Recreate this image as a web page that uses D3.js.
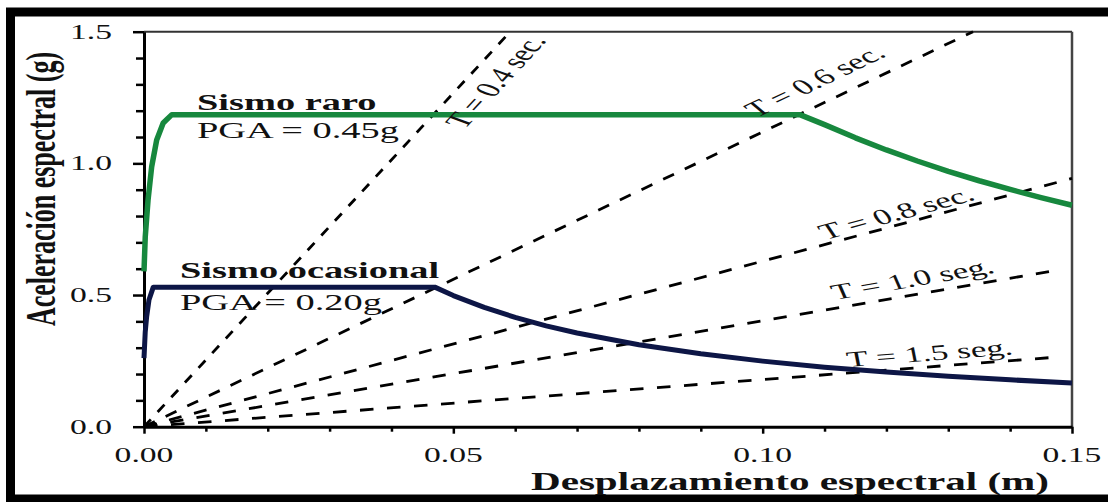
<!DOCTYPE html>
<html>
<head>
<meta charset="utf-8">
<script src="https://cdn.jsdelivr.net/npm/d3@7"></script>
<style>
  html, body { margin: 0; padding: 0; background: #fff; }
  svg { display: block; }
</style>
</head>
<body>
<svg id="chart" width="1108" height="502"></svg>
<script>
// Demand spectra in ADRS format: spectral displacement (m) vs spectral acceleration (g)

// "Sismo raro" spectrum
const rareSd = [0, 0.0002, 0.00065, 0.00124, 0.00205, 0.0031, 0.0045, 0.106, 0.11, 0.115, 0.12, 0.125, 0.13, 0.135, 0.14, 0.145, 0.15];
const rareSa = [0.59, 0.72, 0.86, 0.987, 1.089, 1.153, 1.185, 1.185, 1.147, 1.097, 1.051, 1.009, 0.970, 0.934, 0.901, 0.870, 0.841];

// "Sismo ocasional" spectrum
const occSd = [0, 0.0002, 0.00043, 0.0008, 0.0015, 0.047, 0.05, 0.055, 0.06, 0.065, 0.07, 0.08, 0.09, 0.10, 0.11, 0.12, 0.13, 0.14, 0.15];
const occSa = [0.26, 0.36, 0.418, 0.481, 0.53, 0.53, 0.498, 0.453, 0.415, 0.383, 0.356, 0.311, 0.277, 0.249, 0.226, 0.208, 0.192, 0.178, 0.166];

const spectraNames = ["Sismo raro", "Sismo ocasional"];
const spectraPGA = ["PGA = 0.45g", "PGA = 0.20g"];

// Constant-period radial lines, all starting at the origin
const periodLabels = ["T = 0.4 sec.", "T = 0.6 sec.", "T = 0.8 sec.", "T = 1.0 seg.", "T = 1.5 seg."];
const periodEndSd = [0.0592, 0.134, 0.15, 0.148, 0.148];
const periodEndSa = [1.5, 1.5, 0.943, 0.596, 0.265];
const periodLabelSd = [0.0518, 0.0990, 0.1101, 0.1117, 0.1138];
const periodLabelSa = [1.128, 1.172, 0.709, 0.481, 0.227];

// Axis ticks
const xMajorTicks = [0, 0.05, 0.10, 0.15];
const xMinorTicks = [0.01, 0.02, 0.03, 0.04, 0.06, 0.07, 0.08, 0.09, 0.11, 0.12, 0.13, 0.14];
const yMajorTicks = [0, 0.5, 1.0, 1.5];
const yMinorTicks = [0.1, 0.2, 0.3, 0.4, 0.6, 0.7, 0.8, 0.9, 1.1, 1.2, 1.3, 1.4];

const xTitle = "Desplazamiento espectral (m)";
const yTitle = "Aceleración espectral (g)";

// ---------------------------------------------------------------
const SX = 1.6;              // horizontal stretch of the whole figure
const FONT = "'Liberation Serif', 'Times New Roman', serif";
const svg = d3.select("#chart");

const x = d3.scaleLinear().domain([0, 0.15]).range([144, 1072]);
const y = d3.scaleLinear().domain([0, 1.5]).range([426.7, 31.7]);

// angle (radians) in unstretched space that appears as displayAngle after stretching
function baseAngle(displayAngle) {
  return Math.atan2(SX * Math.sin(displayAngle), Math.cos(displayAngle));
}
// length factor of a unit segment drawn at base angle phi after stretching
function stretchFactor(phi) {
  return Math.hypot(SX * Math.cos(phi), Math.sin(phi));
}

function stretchedText(parent, px, py, displayAngle, str, size, weight, anchor) {
  const phi = baseAngle(displayAngle) * 180 / Math.PI;
  return parent.append("text")
    .attr("transform", `translate(${px},${py}) scale(${SX},1) rotate(${phi})`)
    .attr("font-family", FONT)
    .attr("font-size", size)
    .attr("font-weight", weight || "normal")
    .attr("text-anchor", anchor || "start")
    .attr("fill", "#111")
    .text(str);
}

// Outer frame
svg.append("rect")
  .attr("x", 10.5).attr("y", 12).attr("width", 1200).attr("height", 487)
  .attr("fill", "none").attr("stroke", "#000").attr("stroke-width", 9);

// Plot box (top and right edges)
svg.append("line")
  .attr("x1", x(0)).attr("x2", x(0.15)).attr("y1", y(1.5)).attr("y2", y(1.5))
  .attr("stroke", "#333").attr("stroke-width", 2);
svg.append("line")
  .attr("x1", x(0.15)).attr("x2", x(0.15)).attr("y1", y(1.5)).attr("y2", y(0))
  .attr("stroke", "#444").attr("stroke-width", 2.5);

// Axes
const gx = svg.append("g").attr("transform", `translate(0,${y(0)})`);
gx.call(d3.axisBottom(x).tickValues(xMajorTicks).tickSize(7).tickSizeOuter(0).tickFormat(""));
const gxm = svg.append("g").attr("transform", `translate(0,${y(0)})`);
gxm.call(d3.axisBottom(x).tickValues(xMinorTicks).tickSize(5).tickSizeOuter(0).tickFormat(""));
gxm.select(".domain").remove();

const gy = svg.append("g").attr("transform", `translate(${x(0)},0)`);
gy.call(d3.axisLeft(y).tickValues(yMajorTicks).tickSize(11).tickSizeOuter(0).tickFormat(""));
const gym = svg.append("g").attr("transform", `translate(${x(0)},0)`);
gym.call(d3.axisLeft(y).tickValues(yMinorTicks).tickSize(8).tickSizeOuter(0).tickFormat(""));
gym.select(".domain").remove();

svg.selectAll(".domain").attr("stroke", "#000").attr("stroke-width", 3);
svg.selectAll(".tick line").attr("stroke", "#000").attr("stroke-width", 2.5);

// Tick labels
const fx = d3.format(".2f"), fy = d3.format(".1f");
xMajorTicks.forEach(v => stretchedText(svg, x(v), y(0) + 35, 0, fx(v), 21, "normal", "middle"));
yMajorTicks.forEach(v => stretchedText(svg, 112, y(v) + 7, 0, fy(v), 21, "normal", "end"));

// Axis titles
stretchedText(svg, 790, 490, 0, xTitle, 25.7, "bold", "middle");
stretchedText(svg, 55, 189, -Math.PI / 2, yTitle, 26, "bold", "middle");

// Constant-period lines
const BASE_DASH = 8.5, BASE_GAP = 8.5;
const periodLayer = svg.append("g");
periodLabels.forEach((lab, i) => {
  const x0 = x(0), y0 = y(0), x1 = x(periodEndSd[i]), y1 = y(periodEndSa[i]);
  const ang = Math.atan2(y1 - y0, x1 - x0);
  const k = stretchFactor(baseAngle(ang));
  periodLayer.append("line")
    .attr("x1", x0).attr("y1", y0).attr("x2", x1).attr("y2", y1)
    .attr("stroke", "#000").attr("stroke-width", 2.8)
    .attr("stroke-dasharray", `${BASE_DASH * k} ${BASE_GAP * k}`);
});

// Spectra curves
const line = d3.line().x(d => x(d[0])).y(d => y(d[1]));
svg.append("path")
  .datum(rareSd.map((d, i) => [d, rareSa[i]]))
  .attr("d", line).attr("fill", "none")
  .attr("stroke", "#17883e").attr("stroke-width", 5.5).attr("stroke-linejoin", "round");
svg.append("path")
  .datum(occSd.map((d, i) => [d, occSa[i]]))
  .attr("d", line).attr("fill", "none")
  .attr("stroke", "#0d1646").attr("stroke-width", 5).attr("stroke-linejoin", "round");

// Period labels along their lines
periodLabels.forEach((lab, i) => {
  const ang = Math.atan2(y(periodEndSa[i]) - y(0), x(periodEndSd[i]) - x(0));
  stretchedText(svg, x(periodLabelSd[i]), y(periodLabelSa[i]), ang, lab, 22, "normal", "start");
});

// Spectrum names
const nameX = [197, 180], nameY = [110, 278], pgaY = [138, 310];
spectraNames.forEach((nm, i) => {
  stretchedText(svg, nameX[i], nameY[i], 0, nm, 24, "bold", "start");
  stretchedText(svg, nameX[i], pgaY[i], 0, spectraPGA[i], 24, "normal", "start");
});
</script>
</body>
</html>
